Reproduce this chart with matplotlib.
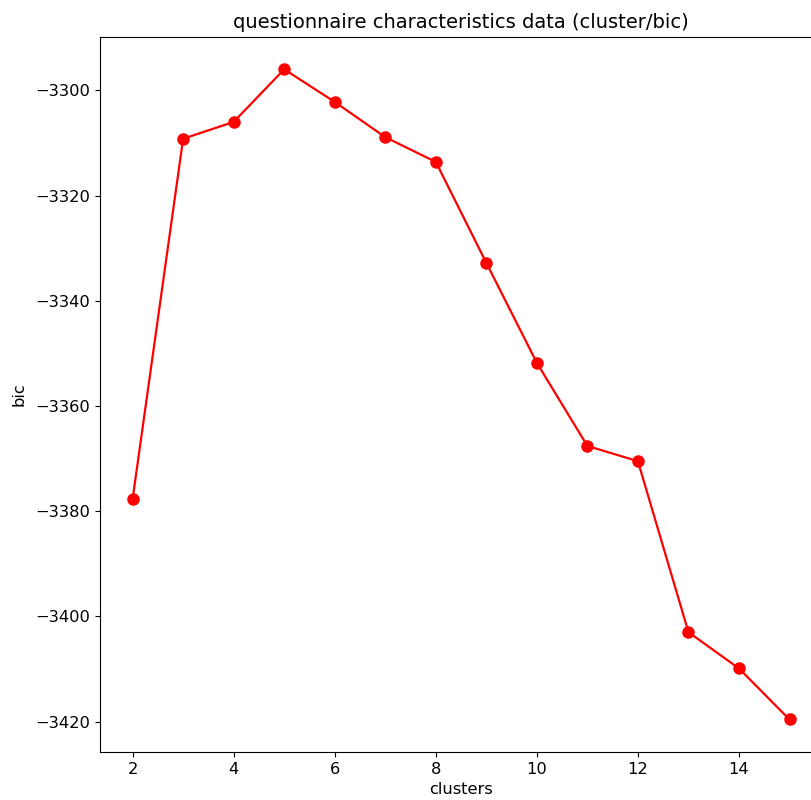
import matplotlib
matplotlib.use('Agg')
import matplotlib.pyplot as plt

# numero de clusters y valores de bic
clusters = [2, 3, 4, 5, 6, 7, 8, 9, 10, 11, 12, 13, 14, 15]
bic = [-3377.7, -3309.2, -3306.0, -3296.0, -3302.2, -3308.9, -3313.6,
       -3332.8, -3351.8, -3367.6, -3370.5, -3403.0, -3409.9, -3419.6]

plt.rcParams['font.size'] = 11.7

fig = plt.figure(figsize=(8.11, 8.0), dpi=100)
# el grafico original esta recortado a la derecha
ax = fig.add_axes([0.123, 0.06, 0.891, 0.894])
ax.plot(clusters, bic, 'ro-', markersize=8, linewidth=1.6)
ax.set_title('questionnaire characteristics data (cluster/bic)')
ax.set_xlabel('clusters')
ax.set_ylabel('bic', labelpad=6)
fig.savefig('out.png')
